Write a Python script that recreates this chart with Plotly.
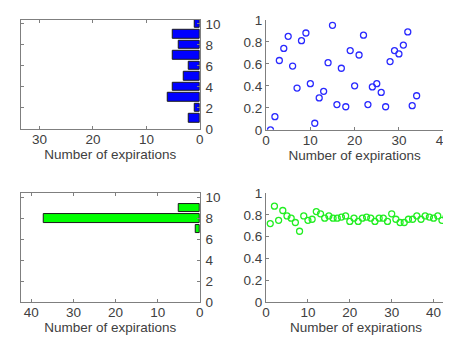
import plotly.graph_objects as go

# ---- data ----
bins_top = [1, 2, 3, 4, 5, 6, 7, 8, 9, 10]
counts_top = [2, 1, 6, 5, 3, 2, 5, 4, 5, 1]
bins_bottom = [7, 8, 9]
counts_bottom = [1, 37, 5]

expir_top = list(range(1, 35))
vals_top = [0.00, 0.12, 0.63, 0.74, 0.85, 0.58, 0.38, 0.81, 0.88, 0.42,
            0.06, 0.29, 0.35, 0.61, 0.95, 0.23, 0.56, 0.21, 0.72, 0.40,
            0.68, 0.86, 0.23, 0.39, 0.42, 0.34, 0.21, 0.62, 0.72, 0.69,
            0.77, 0.89, 0.22, 0.31]

expir_bottom = list(range(1, 44))
vals_bottom = [0.72, 0.88, 0.75, 0.84, 0.79, 0.77, 0.73, 0.65, 0.79, 0.75,
               0.76, 0.83, 0.81, 0.77, 0.79, 0.77, 0.77, 0.78, 0.79, 0.74,
               0.77, 0.74, 0.77, 0.78, 0.77, 0.74, 0.77, 0.77, 0.74, 0.81,
               0.76, 0.73, 0.73, 0.76, 0.76, 0.79, 0.76, 0.79, 0.78, 0.77,
               0.79, 0.75, 0.78]

xlabel = "Number of expirations"

FONT = "Liberation Sans, Arial, sans-serif"
AX = "#7f7f7f"
TXT = "#404040"
FS = 13.5

fig = go.Figure()
fig.add_trace(go.Bar(x=counts_top, y=bins_top, orientation="h", width=0.8,
                     marker=dict(color="#0000ff", line=dict(color="#1a1a1a", width=1)),
                     xaxis="x", yaxis="y", showlegend=False))
fig.add_trace(go.Scatter(x=expir_top, y=vals_top, mode="markers",
                         marker=dict(symbol="circle-open", size=6, color="#2a2aff",
                                     line=dict(width=1.3)),
                         xaxis="x2", yaxis="y2", showlegend=False))
fig.add_trace(go.Bar(x=counts_bottom, y=bins_bottom, orientation="h", width=0.8,
                     marker=dict(color="#00ff00", line=dict(color="#1a1a1a", width=1)),
                     xaxis="x3", yaxis="y3", showlegend=False))
fig.add_trace(go.Scatter(x=expir_bottom, y=vals_bottom, mode="markers",
                         marker=dict(symbol="circle-open", size=6, color="#22ee22",
                                     line=dict(width=1.3)),
                         xaxis="x4", yaxis="y4", showlegend=False))

W, H = 451, 351
def xd(a, b):
    return [a / W, b / W]
def yd(top, bot):
    return [1 - bot / H, 1 - top / H]

common = dict(showgrid=False, zeroline=False, showline=True, linecolor=AX, linewidth=1,
              ticks="inside", ticklen=3, tickcolor=AX,
              tickfont=dict(size=FS, color=TXT, family=FONT))
box = dict(common, mirror="ticks")
xt = dict(text=xlabel, font=dict(size=FS, color=TXT, family=FONT), standoff=3)

fig.update_layout(
    width=W, height=H, margin=dict(l=0, r=0, t=0, b=0),
    paper_bgcolor="white", plot_bgcolor="white",
    font=dict(family=FONT, color=TXT),
    bargap=0,
    xaxis=dict(box, domain=xd(9, 193), range=[33.5, 0], anchor="y", dtick=10,
               ticklabelstandoff=-2, title=xt),
    yaxis=dict(box, domain=yd(5, 119), range=[0, 10.4], anchor="x", side="right",
               dtick=2, ticklabelstandoff=2),
    xaxis2=dict(common, domain=xd(261, 443), range=[0, 40], anchor="y2", dtick=10,
                ticklabelstandoff=-2, title=xt),
    yaxis2=dict(common, domain=yd(5, 120), range=[0, 1], anchor="x2", dtick=0.2,
                tickformat="~g"),
    xaxis3=dict(box, domain=xd(9, 193), range=[42.5, 0], anchor="y3", dtick=10,
                ticklabelstandoff=-2, title=xt),
    yaxis3=dict(box, domain=yd(186, 300), range=[0, 10.45], anchor="x3", side="right",
                dtick=2, ticklabelstandoff=2),
    xaxis4=dict(common, domain=xd(261, 446), range=[0, 43], anchor="y4", dtick=10,
                ticklabelstandoff=-2, title=xt),
    yaxis4=dict(common, domain=yd(186, 300), range=[0, 1], anchor="x4", dtick=0.2,
                tickformat="~g"),
)

fig.write_html("out.html")
